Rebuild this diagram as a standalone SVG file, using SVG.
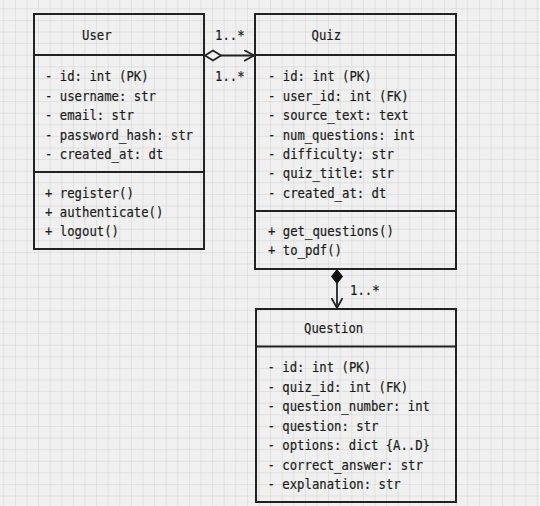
<svg xmlns="http://www.w3.org/2000/svg" width="540" height="506" viewBox="0 0 540 506">
<defs>
<pattern id="grid" x="3.3" y="8.3" width="11.6" height="11.6" patternUnits="userSpaceOnUse">
<path d="M0 0 H11.6 M0 0 V11.6" fill="none" stroke="#d0d0d0" stroke-width="1"/>
</pattern>
<marker id="open" markerWidth="12" markerHeight="12" refX="10" refY="6" orient="auto" markerUnits="userSpaceOnUse">
<path d="M0 0.5 L10 6 L0 11.5" fill="none" stroke="#222" stroke-width="1.8"/>
</marker>
</defs>
<style>
.box{fill:none;stroke:#222;stroke-width:2}
.div{stroke:#222;stroke-width:2}
text{font-family:"DejaVu Sans Mono","Liberation Mono",monospace;font-size:13.5px;fill:#1c1c1c;stroke:#1c1c1c;stroke-width:0.2}
.conn{fill:none;stroke:#222;stroke-width:1.8}
</style>
<rect width="540" height="506" fill="#f0f0f0"/>
<rect width="540" height="506" fill="url(#grid)"/>

<g id="User">
<rect class="box" x="34" y="14" width="170" height="235"/>
<line class="div" x1="34" y1="55" x2="204" y2="55"/>
<line class="div" x1="34" y1="172" x2="204" y2="172"/>
<text x="82" y="40" textLength="29.6" lengthAdjust="spacingAndGlyphs">User</text>
<text x="45" y="81" textLength="103.6" lengthAdjust="spacingAndGlyphs">- id: int (PK)</text>
<text x="45" y="100.5" textLength="111" lengthAdjust="spacingAndGlyphs">- username: str</text>
<text x="45" y="120" textLength="88.8" lengthAdjust="spacingAndGlyphs">- email: str</text>
<text x="45" y="139.5" textLength="148" lengthAdjust="spacingAndGlyphs">- password_hash: str</text>
<text x="45" y="159" textLength="118.4" lengthAdjust="spacingAndGlyphs">- created_at: dt</text>
<text x="45" y="197.5" textLength="88.8" lengthAdjust="spacingAndGlyphs">+ register()</text>
<text x="45" y="216.5" textLength="118.4" lengthAdjust="spacingAndGlyphs">+ authenticate()</text>
<text x="45" y="235.5" textLength="74" lengthAdjust="spacingAndGlyphs">+ logout()</text>
</g>

<g id="Quiz">
<rect class="box" x="255" y="14" width="201" height="255"/>
<line class="div" x1="255" y1="55" x2="456" y2="55"/>
<line class="div" x1="255" y1="211" x2="456" y2="211"/>
<text x="311.5" y="40" textLength="29.6" lengthAdjust="spacingAndGlyphs">Quiz</text>
<text x="268" y="81" textLength="103.6" lengthAdjust="spacingAndGlyphs">- id: int (PK)</text>
<text x="268" y="100.5" textLength="140.6" lengthAdjust="spacingAndGlyphs">- user_id: int (FK)</text>
<text x="268" y="120" textLength="140.6" lengthAdjust="spacingAndGlyphs">- source_text: text</text>
<text x="268" y="139.5" textLength="147" lengthAdjust="spacingAndGlyphs">- num_questions: int</text>
<text x="268" y="159" textLength="125.8" lengthAdjust="spacingAndGlyphs">- difficulty: str</text>
<text x="268" y="178" textLength="125.8" lengthAdjust="spacingAndGlyphs">- quiz_title: str</text>
<text x="268" y="197.5" textLength="118.4" lengthAdjust="spacingAndGlyphs">- created_at: dt</text>
<text x="268" y="236" textLength="125.8" lengthAdjust="spacingAndGlyphs">+ get_questions()</text>
<text x="268" y="255" textLength="74" lengthAdjust="spacingAndGlyphs">+ to_pdf()</text>
</g>

<g id="Question">
<rect class="box" x="256" y="309" width="200" height="193"/>
<line class="div" x1="256" y1="346.5" x2="456" y2="346.5"/>
<text x="304" y="333.3" textLength="59.2" lengthAdjust="spacingAndGlyphs">Question</text>
<text x="267.5" y="372.3" textLength="103.6" lengthAdjust="spacingAndGlyphs">- id: int (PK)</text>
<text x="267.5" y="391.7" textLength="140.6" lengthAdjust="spacingAndGlyphs">- quiz_id: int (FK)</text>
<text x="267.5" y="411" textLength="162.5" lengthAdjust="spacingAndGlyphs">- question_number: int</text>
<text x="267.5" y="430.7" textLength="111" lengthAdjust="spacingAndGlyphs">- question: str</text>
<text x="267.5" y="450" textLength="162.5" lengthAdjust="spacingAndGlyphs">- options: dict {A..D}</text>
<text x="267.5" y="469.7" textLength="155.4" lengthAdjust="spacingAndGlyphs">- correct_answer: str</text>
<text x="267.5" y="489" textLength="133.2" lengthAdjust="spacingAndGlyphs">- explanation: str</text>
</g>

<g id="connectors">
<line class="conn" x1="221" y1="55.5" x2="254" y2="55.5" marker-end="url(#open)"/>
<path d="M205 55.5 L213 50.5 L221 55.5 L213 60.5 Z" fill="#f0f0f0" stroke="#222" stroke-width="1.8"/>
<text x="215" y="40" textLength="29.6" lengthAdjust="spacingAndGlyphs">1..*</text>
<text x="215" y="81" textLength="29.6" lengthAdjust="spacingAndGlyphs">1..*</text>
<line class="conn" x1="337" y1="283" x2="337" y2="308" marker-end="url(#open)"/>
<path d="M337 269.5 L342.5 276.5 L337 283.5 L331.5 276.5 Z" fill="#111" stroke="#111" stroke-width="1"/>
<text x="350" y="295" textLength="29.6" lengthAdjust="spacingAndGlyphs">1..*</text>
</g>
</svg>
